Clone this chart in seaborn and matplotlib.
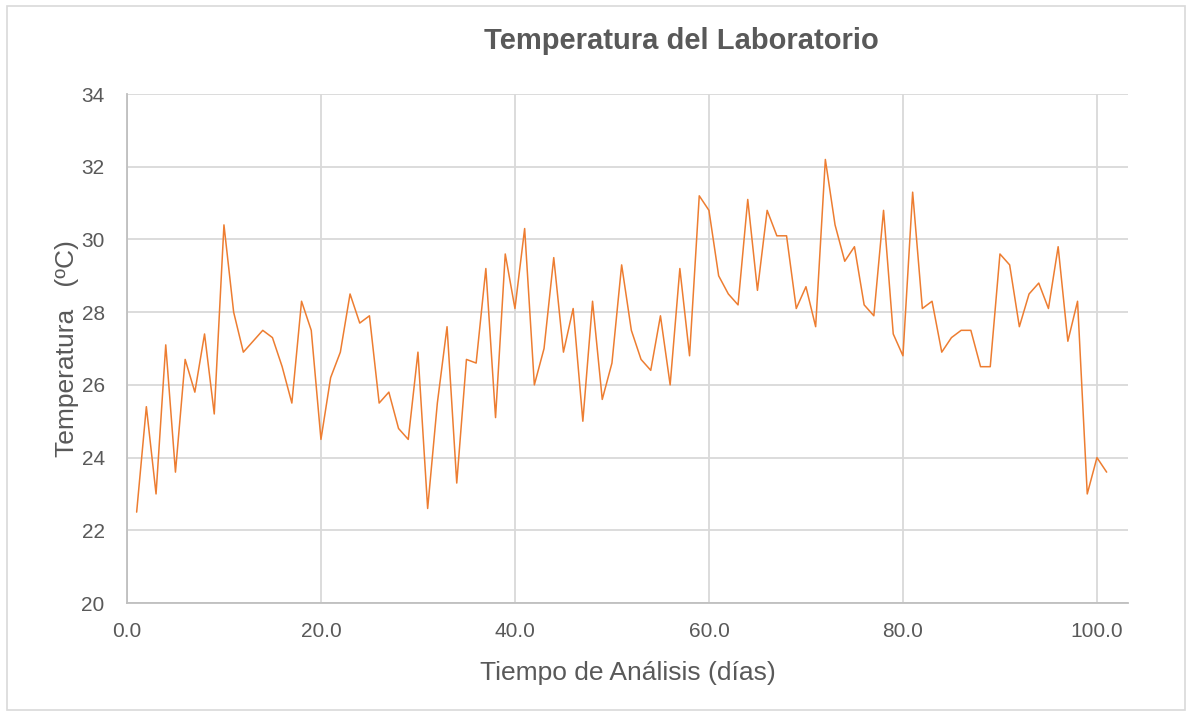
import numpy as np
import pandas as pd
import seaborn as sns
import matplotlib.pyplot as plt
from matplotlib.patches import Rectangle

# daily lab temperature readings
dias = list(range(1, 102))
temperatura = [
    22.5, 25.4, 23.0, 27.1, 23.6, 26.7, 25.8, 27.4, 25.2, 30.4,
    28.0, 26.9, 27.2, 27.5, 27.3, 26.5, 25.5, 28.3, 27.5, 24.5,
    26.2, 26.9, 28.5, 27.7, 27.9, 25.5, 25.8, 24.8, 24.5, 26.9,
    22.6, 25.5, 27.6, 23.3, 26.7, 26.6, 29.2, 25.1, 29.6, 28.1,
    30.3, 26.0, 27.0, 29.5, 26.9, 28.1, 25.0, 28.3, 25.6, 26.6,
    29.3, 27.5, 26.7, 26.4, 27.9, 26.0, 29.2, 26.8, 31.2, 30.8,
    29.0, 28.5, 28.2, 31.1, 28.6, 30.8, 30.1, 30.1, 28.1, 28.7,
    27.6, 32.2, 30.4, 29.4, 29.8, 28.2, 27.9, 30.8, 27.4, 26.8,
    31.3, 28.1, 28.3, 26.9, 27.3, 27.5, 27.5, 26.5, 26.5, 29.6,
    29.3, 27.6, 28.5, 28.8, 28.1, 29.8, 27.2, 28.3, 23.0, 24.0,
    23.6,
]
xticks = [0, 20, 40, 60, 80, 100]
yticks = [20, 22, 24, 26, 28, 30, 32, 34]

df = pd.DataFrame({"dia": dias, "temp": temperatura})

sns.set_theme(style="whitegrid")
plt.rcParams['font.family'] = ['Liberation Sans', 'DejaVu Sans']

fig = plt.figure(figsize=(11.92, 7.16), dpi=100)
ax = fig.add_axes([0.1065, 0.1578, 0.8398, 0.7109])

sns.lineplot(data=df, x="dia", y="temp", ax=ax, color="#ED7D31", linewidth=1.1)

ax.set_xlim(0, 103.2)
ax.set_ylim(20, 34)
ax.set_xticks(xticks)
ax.set_xticklabels([f"{t:.1f}" for t in xticks])
ax.set_yticks(yticks)

ax.grid(True, color="#d9d9d9", linewidth=1.3)
for s in ["top", "right"]:
    ax.spines[s].set_visible(False)
for s in ["left", "bottom"]:
    ax.spines[s].set_color("#bfbfbf")
    ax.spines[s].set_linewidth(1.3)
ax.tick_params(axis="both", labelsize=15, colors="#595959", length=0)
ax.tick_params(axis="x", pad=14)
ax.tick_params(axis="y", pad=16)

ax.set_xlabel("Tiempo de Análisis (días)", fontsize=19, color="#595959", labelpad=14)
ax.set_ylabel("Temperatura   (ºC)", fontsize=19, color="#595959", labelpad=2)
fig.text(0.572, 0.943, "Temperatura del Laboratorio", ha="center", va="center",
         fontsize=21, fontweight="bold", color="#595959")

fig.patches.append(Rectangle((0.006, 0.008), 0.988, 0.984, transform=fig.transFigure,
                             fill=False, edgecolor="#d9d9d9", linewidth=1.2))

fig.savefig("out.png", dpi=100)
